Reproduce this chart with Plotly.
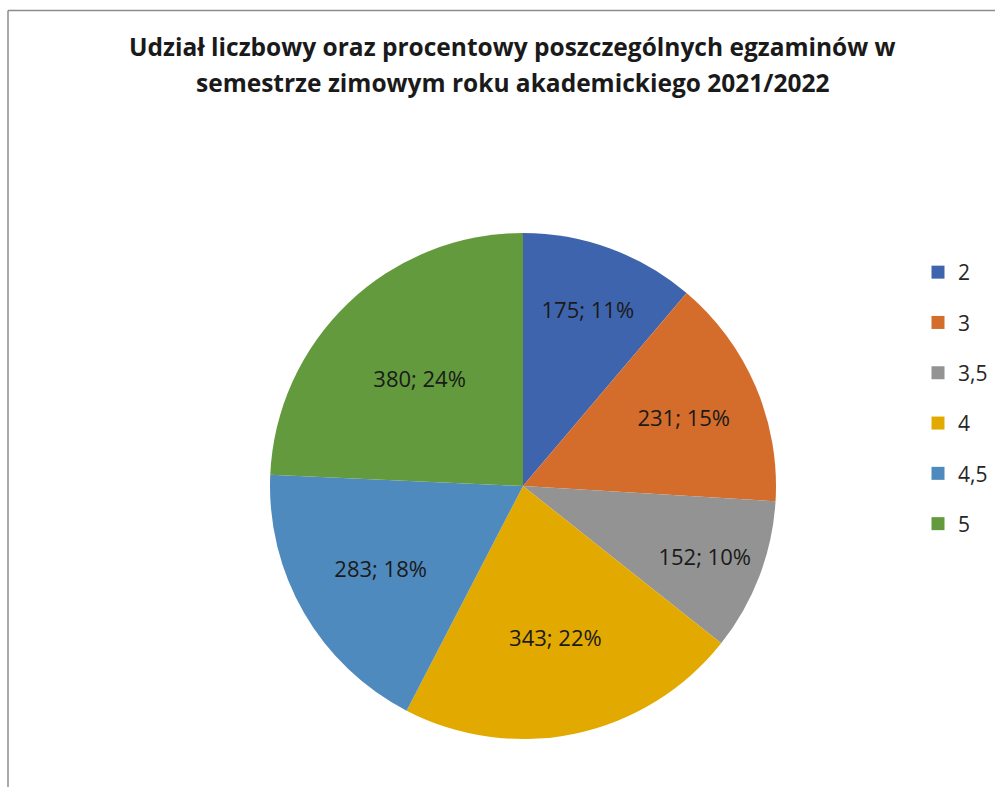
import plotly.graph_objects as go

categories = ["2", "3", "3,5", "4", "4,5", "5"]
values = [175, 231, 152, 343, 283, 380]
colors = ["#3F64AE", "#D46D2B", "#939393", "#E2AA00", "#4F8ABE", "#629A3D"]
title_lines = ["Udział liczbowy oraz procentowy poszczególnych egzaminów w",
               "semestrze zimowym roku akademickiego 2021/2022"]

W, H = 995, 787

def px(x):
    return x / W

def py(y):
    return 1 - y / H

fig = go.Figure()
fig.add_trace(go.Pie(
    labels=categories,
    values=values,
    sort=False,
    direction="clockwise",
    rotation=0,
    marker=dict(colors=colors, line=dict(color="white", width=0)),
    texttemplate="%{value}; %{percent:.0%}",
    textposition="inside",
    insidetextorientation="horizontal",
    textfont=dict(family="Open Sans", size=22, color="#1a1a1a"),
    domain=dict(x=[px(270), px(776)], y=[py(739), py(233)]),
    showlegend=False,
    hoverinfo="label+value+percent",
))

for cat, col in zip(categories, colors):
    fig.add_trace(go.Scatter(
        x=[None], y=[None], mode="markers",
        marker=dict(symbol="square", size=13, color=col),
        name=cat, legendgroup=cat, showlegend=True,
    ))

annotations = []
for i, line in enumerate(title_lines):
    annotations.append(dict(
        text=line, showarrow=False,
        xref="paper", yref="paper",
        x=px(512), xanchor="center",
        y=py(46 + 36 * i), yanchor="middle",
        font=dict(family="Open Sans", size=24.5, color="#1a1a1a", weight="bold"),
    ))

fig.update_layout(
    width=W, height=H,
    margin=dict(l=0, r=0, t=0, b=0),
    paper_bgcolor="white",
    plot_bgcolor="white",
    xaxis=dict(visible=False),
    yaxis=dict(visible=False),
    annotations=annotations,
    legend=dict(
        x=px(918), xanchor="left",
        y=py(252), yanchor="top",
        font=dict(family="Open Sans", size=21, color="#262626"),
        tracegroupgap=20,
        itemwidth=30,
        bgcolor="rgba(0,0,0,0)",
    ),
    shapes=[
        dict(type="line", xref="paper", yref="paper",
             x0=px(8), x1=1, y0=py(10.5), y1=py(10.5),
             line=dict(color="#8c8c8c", width=1.5)),
        dict(type="line", xref="paper", yref="paper",
             x0=px(8), x1=px(8), y0=py(10.5), y1=0,
             line=dict(color="#8c8c8c", width=1.5)),
    ],
)

fig.write_html("out.html", config={"displayModeBar": False},
               post_script="document.body.style.margin='0';")
